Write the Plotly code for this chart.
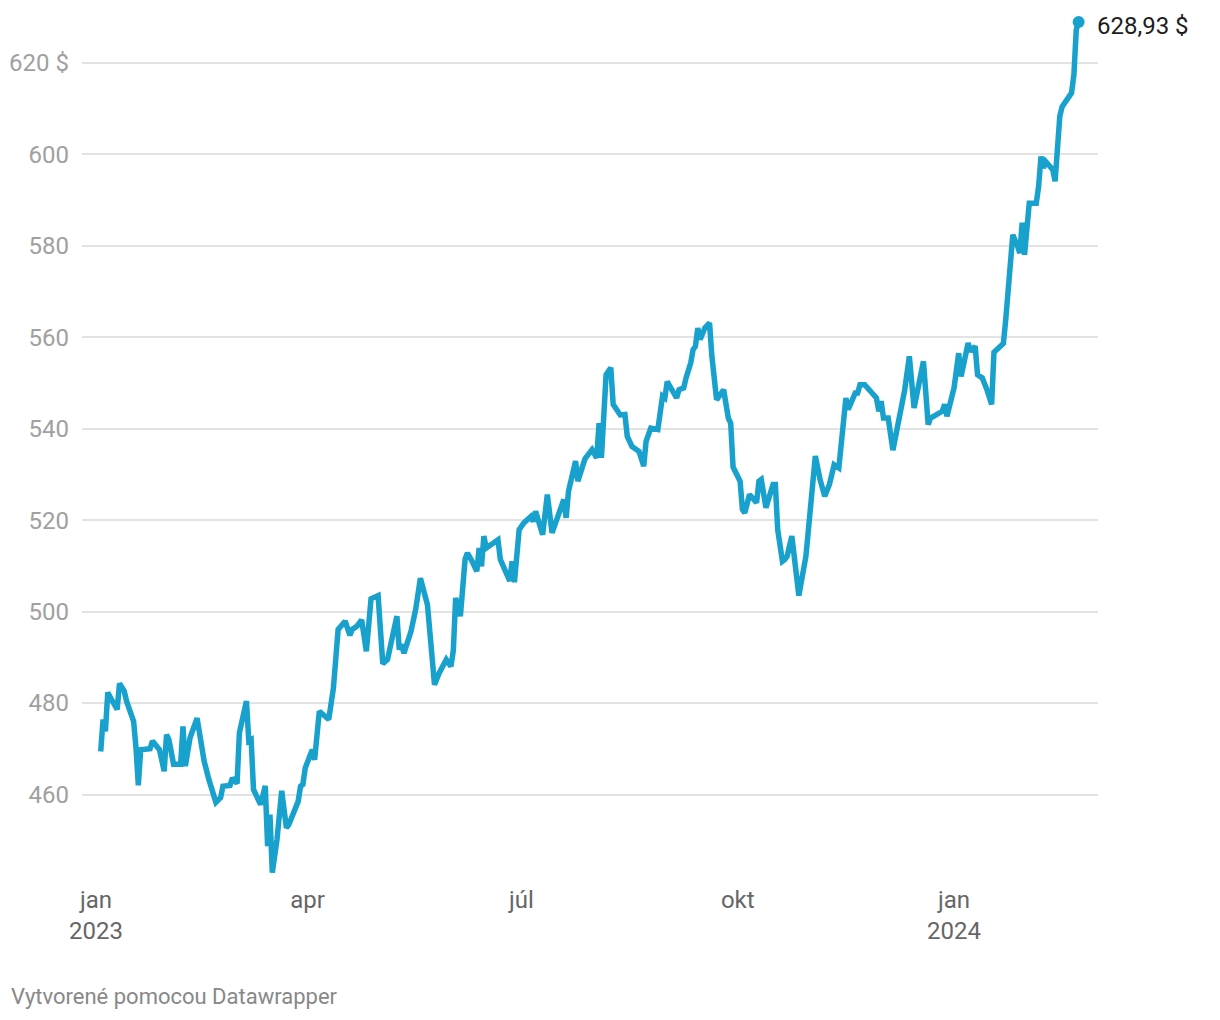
import plotly.graph_objects as go

# ---- data ----
dates = [
    "2023-01-03", "2023-01-04", "2023-01-05", "2023-01-06", "2023-01-08", "2023-01-10",
    "2023-01-11", "2023-01-13", "2023-01-14", "2023-01-16", "2023-01-17", "2023-01-18",
    "2023-01-19", "2023-01-20", "2023-01-23", "2023-01-24", "2023-01-25", "2023-01-27",
    "2023-01-28", "2023-01-30", "2023-01-31", "2023-02-01", "2023-02-03", "2023-02-06",
    "2023-02-07", "2023-02-08", "2023-02-10", "2023-02-13", "2023-02-15", "2023-02-16",
    "2023-02-18", "2023-02-21", "2023-02-23", "2023-02-24", "2023-02-27", "2023-02-28",
    "2023-03-02", "2023-03-03", "2023-03-06", "2023-03-07", "2023-03-08", "2023-03-09",
    "2023-03-12", "2023-03-14", "2023-03-15", "2023-03-16", "2023-03-17", "2023-03-19",
    "2023-03-21", "2023-03-23", "2023-03-24", "2023-03-28", "2023-03-29", "2023-03-30",
    "2023-03-31", "2023-04-03", "2023-04-04", "2023-04-06", "2023-04-10", "2023-04-12",
    "2023-04-14", "2023-04-17", "2023-04-19", "2023-04-20", "2023-04-22", "2023-04-24",
    "2023-04-26", "2023-04-28", "2023-05-01", "2023-05-03", "2023-05-05", "2023-05-09",
    "2023-05-10", "2023-05-11", "2023-05-12", "2023-05-15", "2023-05-17", "2023-05-19",
    "2023-05-22", "2023-05-24", "2023-05-25", "2023-05-27", "2023-05-30", "2023-06-01",
    "2023-06-02", "2023-06-03", "2023-06-05", "2023-06-07", "2023-06-08", "2023-06-10",
    "2023-06-12", "2023-06-13", "2023-06-14", "2023-06-15", "2023-06-16", "2023-06-21",
    "2023-06-22", "2023-06-26", "2023-06-27", "2023-06-28", "2023-06-30", "2023-07-02",
    "2023-07-05", "2023-07-06", "2023-07-07", "2023-07-10", "2023-07-12", "2023-07-14",
    "2023-07-17", "2023-07-19", "2023-07-20", "2023-07-21", "2023-07-24", "2023-07-25",
    "2023-07-27", "2023-07-28", "2023-07-31", "2023-08-02", "2023-08-03", "2023-08-04",
    "2023-08-06", "2023-08-08", "2023-08-09", "2023-08-11", "2023-08-12", "2023-08-14",
    "2023-08-15", "2023-08-17", "2023-08-20", "2023-08-22", "2023-08-23", "2023-08-25",
    "2023-08-28", "2023-08-30", "2023-08-31", "2023-09-01", "2023-09-05", "2023-09-06",
    "2023-09-08", "2023-09-09", "2023-09-11", "2023-09-12", "2023-09-13", "2023-09-14",
    "2023-09-15", "2023-09-17", "2023-09-19", "2023-09-20", "2023-09-22", "2023-09-25",
    "2023-09-26", "2023-09-27", "2023-09-28", "2023-09-29", "2023-10-02", "2023-10-03",
    "2023-10-04", "2023-10-06", "2023-10-09", "2023-10-10", "2023-10-11", "2023-10-13",
    "2023-10-16", "2023-10-17", "2023-10-18", "2023-10-20", "2023-10-21", "2023-10-22",
    "2023-10-24", "2023-10-25", "2023-10-27", "2023-10-30", "2023-10-31", "2023-11-03",
    "2023-11-05", "2023-11-07", "2023-11-09", "2023-11-11", "2023-11-13", "2023-11-15",
    "2023-11-16", "2023-11-17", "2023-11-19", "2023-11-20", "2023-11-21", "2023-11-22",
    "2023-11-24", "2023-11-28", "2023-11-29", "2023-11-30", "2023-12-01", "2023-12-02",
    "2023-12-04", "2023-12-06", "2023-12-11", "2023-12-13", "2023-12-15", "2023-12-19",
    "2023-12-21", "2023-12-22", "2023-12-27", "2023-12-28", "2023-12-29", "2024-01-01",
    "2024-01-03", "2024-01-04", "2024-01-06", "2024-01-07", "2024-01-08", "2024-01-10",
    "2024-01-11", "2024-01-13", "2024-01-15", "2024-01-17", "2024-01-18", "2024-01-22",
    "2024-01-23", "2024-01-26", "2024-01-28", "2024-01-29", "2024-01-30", "2024-01-31",
    "2024-02-02", "2024-02-05", "2024-02-06", "2024-02-07", "2024-02-08", "2024-02-09",
    "2024-02-12", "2024-02-13", "2024-02-15", "2024-02-16", "2024-02-20", "2024-02-21",
    "2024-02-22", "2024-02-23",
]

prices = [
    469.4, 476.4, 473.8, 482.3, 480.4, 478.6,
    484.3, 482.6, 480.4, 477.9, 476.0, 470.3,
    462.0, 469.8, 469.8, 470.0, 471.7, 470.3,
    469.8, 465.1, 473.1, 472.0, 466.6, 466.6,
    474.9, 466.2, 472.4, 476.7, 469.8, 467.3,
    463.3, 458.3, 459.3, 461.8, 462.0, 463.6,
    462.4, 473.5, 480.4, 471.7, 472.0, 461.1,
    457.8, 461.9, 448.7, 455.6, 442.9, 450.2,
    460.8, 452.7, 453.4, 458.5, 461.8, 462.2,
    465.8, 469.8, 467.6, 478.2, 476.4, 483.3,
    496.1, 497.9, 494.8, 496.1, 496.8, 498.2,
    491.3, 502.8, 503.5, 488.6, 489.5, 499.0,
    491.7, 492.8, 490.9, 495.7, 500.5, 507.3,
    501.5, 488.0, 484.0, 486.6, 489.5, 488.0,
    491.5, 503.0, 499.0, 511.4, 512.8, 511.0,
    508.8, 513.9, 509.9, 516.5, 513.9, 515.7,
    511.4, 506.7, 511.0, 506.4, 517.9, 519.4,
    520.8, 519.7, 521.9, 516.8, 525.6, 517.2,
    521.9, 524.5, 520.5, 526.3, 532.9, 528.5,
    531.8, 533.4, 535.4, 533.6, 541.2, 533.6,
    551.8, 553.3, 545.3, 543.4, 543.0, 543.1,
    538.3, 536.1, 535.0, 531.8, 537.2, 540.1,
    539.8, 547.1, 546.7, 550.3, 546.7, 548.5,
    548.9, 551.1, 554.4, 557.3, 558.0, 562.0,
    559.5, 562.0, 563.1, 555.8, 546.3, 548.5,
    544.9, 542.3, 541.2, 531.6, 528.5, 522.3,
    521.6, 525.6, 523.8, 528.5, 528.9, 522.7,
    527.8, 527.8, 517.9, 511.0, 511.4, 512.1,
    516.5, 512.8, 503.5, 512.1, 517.6, 534.0,
    528.9, 525.2, 527.8, 532.1, 531.4, 541.2,
    546.7, 544.2, 546.4, 547.8, 547.8, 549.6,
    549.6, 547.1, 546.7, 543.8, 546.0, 542.3,
    542.3, 535.3, 548.4, 555.8, 544.5, 554.7,
    540.9, 542.3, 543.8, 545.3, 542.7, 548.9,
    556.5, 551.4, 556.2, 558.7, 556.9, 558.0,
    551.8, 551.1, 548.5, 545.3, 556.7, 558.6,
    563.8, 582.4, 579.9, 578.4, 585.0, 578.0,
    589.3, 589.3, 593.0, 599.5, 597.0, 598.4,
    596.6, 594.1, 608.3, 610.4, 613.4, 617.4,
    627.2, 628.93,
]

y_tick_vals = [460, 480, 500, 520, 540, 560, 580, 600, 620]
y_tick_text = ["460", "480", "500", "520", "540", "560", "580", "600", "620 $"]
x_tick_vals = ["2023-01-01", "2023-04-01", "2023-07-01", "2023-10-01", "2024-01-01"]
x_tick_text = ["jan<br>2023", "apr", "júl", "okt", "jan<br>2024"]
end_label = "628,93 $"
footer = "Vytvorené pomocou Datawrapper"

LINE = "#18a1cd"
FONT = "Roboto"

fig = go.Figure()
fig.add_trace(go.Scatter(
    x=dates, y=prices, mode="lines",
    line=dict(color=LINE, width=5.5),
    hoverinfo="skip", showlegend=False,
))
fig.add_trace(go.Scatter(
    x=[dates[-1]], y=[prices[-1]], mode="markers",
    marker=dict(color=LINE, size=12),
    cliponaxis=False, hoverinfo="skip", showlegend=False,
))

fig.add_annotation(
    x=dates[-1], y=prices[-1], xref="x", yref="y",
    text=end_label, showarrow=False, xanchor="left", yanchor="middle",
    xshift=16, yshift=-4, font=dict(family=FONT, size=24, color="#1d1d1d"),
)
fig.add_annotation(
    x=-0.0719, y=-0.1277, xref="paper", yref="paper",
    text=footer, showarrow=False, xanchor="left", yanchor="middle",
    font=dict(family=FONT, size=22, color="#888888"),
)

fig.update_layout(
    width=1212, height=1012,
    margin=dict(l=74, r=122, t=9, b=134, pad=0),
    paper_bgcolor="white", plot_bgcolor="white",
    font=dict(family=FONT, size=24, color="#666666"),
    hovermode=False,
)
fig.update_xaxes(
    type="date", automargin=False,
    range=["2022-12-26 01:00", "2024-03-02 06:00"],
    tickvals=x_tick_vals, ticktext=x_tick_text,
    showgrid=False, zeroline=False, showline=False, ticks="",
    ticklabelstandoff=-3,
    tickfont=dict(family=FONT, size=24, color="#666666"),
)
fig.update_yaxes(
    range=[440, 630], automargin=False,
    tickvals=y_tick_vals, ticktext=y_tick_text,
    showgrid=True, gridcolor="#e3e3e3", gridwidth=2,
    zeroline=False, showline=False, ticks="",
    ticklabelstandoff=12,
    tickfont=dict(family=FONT, size=24, color="#a0a0a0"),
)

fig.write_html("out.html", config={"displayModeBar": False})
